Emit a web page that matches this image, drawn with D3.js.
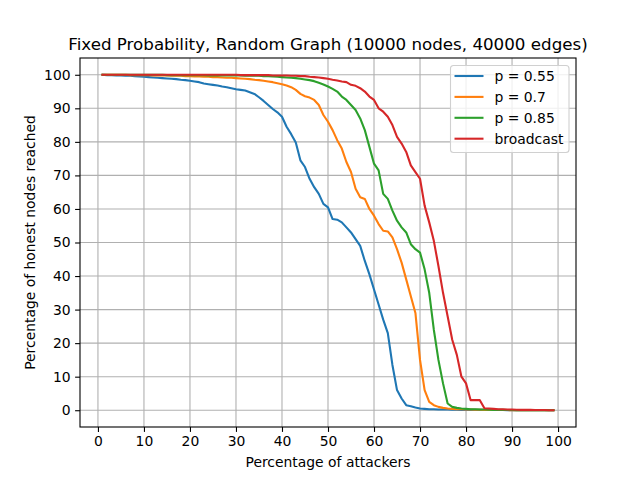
<!DOCTYPE html>
<html>
<head>
<meta charset="utf-8">
<script src="https://cdn.jsdelivr.net/npm/d3@7"></script>
<style>
  body { margin: 0; background: #fff; }
  text { font-family: "DejaVu Sans", sans-serif; fill: #000; }
</style>
</head>
<body>
<div id="chart"></div>
<script>
// attackers percentage, 1..99
var attackers = d3.range(1, 100);

// values, one per attacker percentage
var p055 = [
  100, 99.9, 99.9, 99.8, 99.8, 99.7, 99.7, 99.6, 99.5, 99.4,
  99.3, 99.2, 99.1, 99.0, 98.9, 98.8, 98.7, 98.5, 98.4, 98.2,
  98.0, 97.8, 97.4, 97.2, 97.0, 96.8, 96.5, 96.3, 96.0, 95.7,
  95.5, 95.3, 94.8, 94.3, 93.3, 92.2, 91.0, 89.8, 88.8, 87.5,
  84.5, 82.3, 79.8, 74.5, 72.5, 69.0, 66.5, 64.5, 61.5, 60.5,
  57.0, 56.8, 56.0, 54.5, 53.0, 51.0, 49.0, 44.5, 40.5, 36.0,
  31.5, 27.0, 23.0, 13.5, 6.0, 3.5, 1.5, 1.2, 0.8, 0.5,
  0.4, 0.3, 0.3, 0.2, 0.2, 0.2, 0.15, 0.15, 0.1, 0.1,
  0.1, 0.1, 0.1, 0.05, 0.05, 0.05, 0.05, 0.05, 0, 0,
  0, 0, 0, 0, 0, 0, 0, 0, 0
];
var p070 = [
  100, 100, 100, 100, 100, 100, 99.9, 99.9, 99.9, 99.9,
  99.9, 99.8, 99.8, 99.8, 99.8, 99.7, 99.7, 99.7, 99.6, 99.6,
  99.5, 99.5, 99.4, 99.4, 99.3, 99.3, 99.2, 99.1, 99.1, 99.0,
  98.9, 98.8, 98.7, 98.5, 98.4, 98.2, 98.0, 97.8, 97.5, 97.2,
  96.8, 96.3, 95.5, 94.3, 93.6, 93.2, 92.5, 91.0, 88.0, 86.0,
  83.5, 80.5, 78.0, 74.0, 71.0, 66.0, 63.5, 63.0, 60.0, 58.0,
  55.5, 53.5, 53.3, 51.5, 48.0, 44.0, 39.0, 34.0, 29.0, 15.0,
  6.0, 2.5, 1.5, 1.0, 0.7, 0.5, 0.4, 0.3, 0.3, 0.2,
  0.2, 0.15, 0.15, 0.1, 0.1, 0.1, 0.05, 0.05, 0.05, 0,
  0, 0, 0, 0, 0, 0, 0, 0, 0
];
var p085 = [
  100, 100, 100, 100, 100, 100, 100, 100, 100, 100,
  100, 100, 100, 100, 99.9, 99.9, 99.9, 99.9, 99.9, 99.9,
  99.9, 99.9, 99.9, 99.8, 99.8, 99.8, 99.8, 99.8, 99.8, 99.8,
  99.8, 99.7, 99.7, 99.7, 99.7, 99.6, 99.6, 99.5, 99.4, 99.3,
  99.2, 99.1, 99.0, 98.8, 98.6, 98.4, 98.1, 97.6, 97.1, 96.5,
  95.8, 95.0, 93.5, 92.5, 91.0, 89.5, 87.0, 83.5, 78.5, 73.5,
  71.5, 64.5, 63.0, 59.5, 56.5, 54.5, 53.0, 49.5, 48.0, 47.0,
  42.0, 35.0, 24.0, 15.0, 8.0, 2.0, 1.0, 0.7, 0.5, 0.4,
  0.3, 0.3, 0.2, 0.2, 0.15, 0.1, 0.1, 0.1, 0.05, 0.05,
  0, 0, 0, 0, 0, 0, 0, 0, 0
];
var broadcast = [
  100, 100, 100, 100, 100, 100, 100, 100, 100, 100,
  100, 100, 100, 100, 100, 100, 100, 100, 100, 100,
  100, 100, 100, 100, 100, 100, 100, 100, 100, 100,
  99.9, 99.9, 99.9, 99.9, 99.9, 99.9, 99.9, 99.8, 99.8, 99.8,
  99.8, 99.7, 99.7, 99.6, 99.6, 99.4, 99.3, 99.2, 99.0, 98.8,
  98.5, 98.3, 98.0, 97.8, 97.0, 96.7, 96.0, 95.0, 93.5, 92.5,
  90.0, 89.0, 87.5, 85.0, 81.5, 79.5, 77.0, 73.0, 71.0, 69.0,
  61.0, 56.0, 50.5, 43.0, 35.0, 28.0, 21.0, 16.5, 10.0, 8.0,
  3.0, 3.0, 3.0, 0.6, 0.5, 0.4, 0.3, 0.3, 0.2, 0.2,
  0.15, 0.1, 0.1, 0.1, 0.05, 0.05, 0.05, 0, 0
];

var seriesNames = ["p = 0.55", "p = 0.7", "p = 0.85", "broadcast"];
var seriesValues = [p055, p070, p085, broadcast];
var colors = ["#1f77b4", "#ff7f0e", "#2ca02c", "#d62728"];
var xTicks = d3.range(0, 101, 10);
var yTicks = d3.range(0, 101, 10);

var svgWidth = 640, svgHeight = 480;
var margin = { top: 58, right: 64, bottom: 53, left: 80 };

var svg = d3.select("#chart").append("svg")
    .attr("width", svgWidth)
    .attr("height", svgHeight);

var x = d3.scaleLinear()
    .domain([-3.9, 103.9])
    .range([margin.left, svgWidth - margin.right]);
var y = d3.scaleLinear()
    .domain([-5, 105])
    .range([svgHeight - margin.bottom, margin.top]);

// grid
svg.append("g").selectAll("line").data(xTicks).enter().append("line")
    .attr("x1", d => x(d)).attr("x2", d => x(d))
    .attr("y1", margin.top).attr("y2", svgHeight - margin.bottom)
    .attr("stroke", "#b0b0b0").attr("stroke-width", 1.1);
svg.append("g").selectAll("line").data(yTicks).enter().append("line")
    .attr("y1", d => y(d)).attr("y2", d => y(d))
    .attr("x1", margin.left).attr("x2", svgWidth - margin.right)
    .attr("stroke", "#b0b0b0").attr("stroke-width", 1.1);

// curves
var line = d3.line()
    .x((d, i) => x(attackers[i]))
    .y(d => y(d));

svg.append("g").selectAll("path").data(seriesValues).enter().append("path")
    .attr("d", line)
    .attr("fill", "none")
    .attr("stroke", (d, i) => colors[i])
    .attr("stroke-width", 2.1)
    .attr("stroke-linejoin", "round")
    .attr("stroke-linecap", "square");

// axes
var xAxis = d3.axisBottom(x).tickValues(xTicks).tickSize(4.9).tickPadding(4.5).tickSizeOuter(0);
var yAxis = d3.axisLeft(y).tickValues(yTicks).tickSize(4.9).tickPadding(4.5).tickSizeOuter(0);

var gx = svg.append("g")
    .attr("transform", "translate(0," + (svgHeight - margin.bottom) + ")")
    .call(xAxis);
var gy = svg.append("g")
    .attr("transform", "translate(" + margin.left + ",0)")
    .call(yAxis);
[gx, gy].forEach(function (g) {
    g.select(".domain").remove();
    g.selectAll("line").attr("stroke", "#000").attr("stroke-width", 1.1);
    g.selectAll("text").attr("font-size", 13.9).attr("font-family", "DejaVu Sans").attr("fill", "#000");
});

// frame
svg.append("rect")
    .attr("x", margin.left).attr("y", margin.top)
    .attr("width", svgWidth - margin.left - margin.right)
    .attr("height", svgHeight - margin.top - margin.bottom)
    .attr("fill", "none").attr("stroke", "#000").attr("stroke-width", 1.1);

// title and labels
svg.append("text")
    .attr("x", (margin.left + svgWidth - margin.right) / 2)
    .attr("y", 50)
    .attr("text-anchor", "middle")
    .attr("font-size", 16.7)
    .text("Fixed Probability, Random Graph (10000 nodes, 40000 edges)");

svg.append("text")
    .attr("x", (margin.left + svgWidth - margin.right) / 2)
    .attr("y", 467)
    .attr("text-anchor", "middle")
    .attr("font-size", 13.9)
    .text("Percentage of attackers");

svg.append("text")
    .attr("transform", "translate(35," + ((margin.top + svgHeight - margin.bottom) / 2) + ") rotate(-90)")
    .attr("text-anchor", "middle")
    .attr("font-size", 13.9)
    .text("Percentage of honest nodes reached");

// legend
var legend = svg.append("g").attr("transform", "translate(450.5,65.5)");
legend.append("rect")
    .attr("width", 118.5).attr("height", 87)
    .attr("rx", 3).attr("ry", 3)
    .attr("fill", "#fff").attr("fill-opacity", 0.8)
    .attr("stroke", "#d0d0d0").attr("stroke-width", 1.1);
var items = legend.selectAll("g.item").data(seriesNames).enter().append("g")
    .attr("transform", (d, i) => "translate(0," + (10.5 + i * 20.9) + ")");
items.append("line")
    .attr("x1", 4).attr("x2", 33)
    .attr("stroke", (d, i) => colors[i])
    .attr("stroke-width", 2.1);
items.append("text")
    .attr("x", 44).attr("y", 5)
    .attr("font-size", 13.9)
    .text(d => d);
</script>
</body>
</html>
